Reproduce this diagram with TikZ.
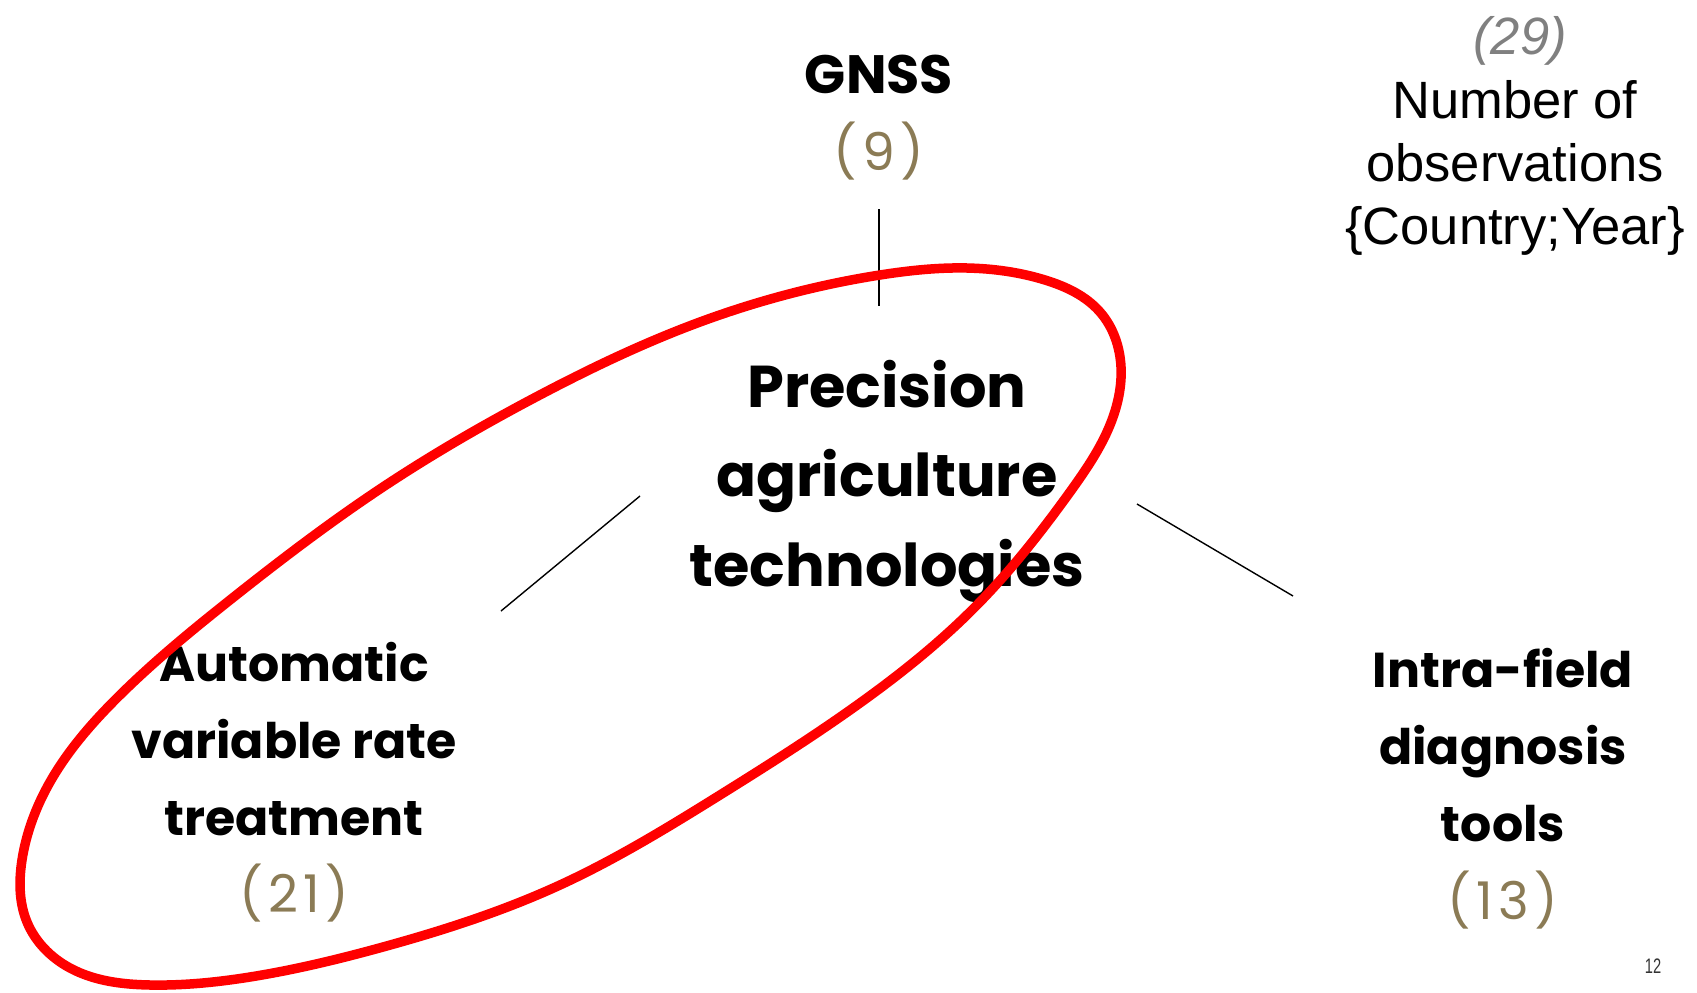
\documentclass[tikz,border=0pt]{standalone}
\usepackage{fontspec}
\setmainfont{Poppins}
\newfontfamily\notefont{Liberation Sans}
\usetikzlibrary{positioning,hobby}
\definecolor{ink}{HTML}{000000}
\definecolor{count}{HTML}{8B7B55}
\definecolor{note}{HTML}{808080}
\definecolor{loop}{HTML}{FF0000}
\definecolor{page}{HTML}{333333}
\tikzset{
  link/.style={draw=ink, line width=1.4pt},
  ring/.style={draw=loop, line width=9.5pt, line join=round},
  hub/.style={text=ink, align=center, inner sep=0pt, anchor=base, font=\bfseries\fontsize{59}{89.5}\selectfont},
  tech/.style={text=ink, align=center, inner sep=0pt, anchor=base, font=\bfseries\fontsize{49}{76.7}\selectfont},
  cnt/.style={text=count, inner sep=0pt, anchor=base, font=\fontsize{52}{60}\selectfont\addfontfeature{LetterSpace=10}},
  legend/.style={text=ink, align=center, inner sep=0pt, anchor=base, font=\notefont\fontsize{52.5}{63}\selectfont},
}
\begin{document}
\begin{tikzpicture}[x=1pt, y=-1pt]
  \useasboundingbox (0,0) rectangle (1697,993);

  % labels (base = last line)
  \node[hub] (pat) at (887,586) {Precision\\agriculture\\technologies};
  \node[tech, font=\bfseries\fontsize{54}{60}\selectfont] (gnss) at (879,93) {GNSS};
  \node[cnt] (gnssn) at (879,170) {(9)};
  \node[tech] (avrt) at (294,835) {Automatic\\variable rate\\treatment};
  \node[cnt] (avrtn) at (294,912) {(21)};
  \node[tech] (ifdt) at (1503,841) {Intra-field\\diagnosis\\tools};
  \node[cnt] (ifdtn) at (1503,919) {(13)};

  % legend
  \node[legend, text=note, font=\notefont\itshape\fontsize{52.5}{63}\selectfont] (obsn) at (1520,54) {(29)};
  \node[legend] (obs) at (1515,244) {Number of\\observations\\\{Country;Year\}};
  \node[text=page, xscale=0.7, font=\notefont\fontsize{21}{25}\selectfont] (pg) at (1653,966) {12};

  % connectors
  \coordinate (gnssEnd) at (879,209);
  \coordinate (patTop) at (879,306);
  \coordinate (patLeft) at (640,496);
  \coordinate (avrtEnd) at (501,611);
  \coordinate (patRight) at (1137,504);
  \coordinate (ifdtEnd) at (1293,596);
  \draw[link] (gnssEnd) -- (patTop);
  \draw[link] (patLeft) -- (avrtEnd);
  \draw[link] (patRight) -- (ifdtEnd);

  % red loop round the highlighted pair
  \draw[ring, use Hobby shortcut, closed=true]
    (880,275) .. (967,268) .. (1045,280) .. (1100,312) .. (1121,367)
    .. (1110,425) .. (1070,492) .. (975,607) .. (860,703) .. (720,795)
    .. (560,885) .. (383,947) .. (250,977) .. (150,985) .. (70,968)
    .. (27,922) .. (22,860) .. (50,782) .. (118,697) .. (230,600)
    .. (383,487) .. (536,397) .. (700,322);
\end{tikzpicture}
\end{document}
